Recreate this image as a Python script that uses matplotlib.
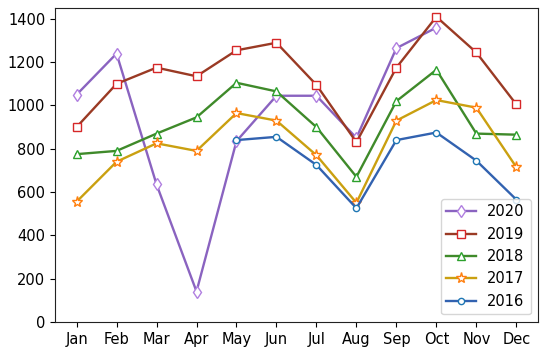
import matplotlib
matplotlib.use("Agg")
import matplotlib.pyplot as plt
import numpy as np

months = ["Jan", "Feb", "Mar", "Apr", "May", "Jun", "Jul", "Aug", "Sep", "Oct", "Nov", "Dec"]
nan = np.nan
y2020 = [1050, 1240, 635, 140, 835, 1045, 1045, 850, 1265, 1360, nan, nan]
y2019 = [900, 1100, 1175, 1135, 1255, 1290, 1095, 830, 1175, 1410, 1245, 1005]
y2018 = [775, 790, 870, 945, 1105, 1065, 900, 670, 1020, 1165, 870, 865]
y2017 = [555, 740, 825, 790, 965, 930, 770, 550, 930, 1025, 990, 715]
y2016 = [nan, nan, nan, nan, 840, 855, 725, 525, 840, 875, 745, 565]

series = [
    ("2020", y2020, "#8a63c0", "#b07fe0", "d", 6),
    ("2019", y2019, "#9a3a24", "#d62728", "s", 6),
    ("2018", y2018, "#3f8a2a", "#2ca02c", "^", 6),
    ("2017", y2017, "#caa010", "#ff7f0e", "*", 8),
    ("2016", y2016, "#3262b0", "#1f77b4", "o", 4.5),
]

fig, ax = plt.subplots(figsize=(5.5, 3.54), dpi=100)
x = np.arange(len(months))
for label, vals, lc, mc, mk, ms in series:
    ax.plot(x, vals, color=lc, marker=mk, markersize=ms, markerfacecolor="white",
            markeredgecolor=mc, markeredgewidth=1.0, linewidth=1.7, label=label)

ax.set_xticks(x)
ax.set_xticklabels(months)
ax.set_xlim(-0.54, 11.54)
ax.set_ylim(0, 1450)
ax.set_yticks(np.arange(0, 1401, 200))
ax.tick_params(labelsize=10.5)
for s in ax.spines.values():
    s.set_color("#222222")
ax.legend(loc="lower right", fontsize=10.5)
fig.subplots_adjust(left=0.1, right=0.978, top=0.977, bottom=0.091)
fig.savefig("out.png", dpi=100)
